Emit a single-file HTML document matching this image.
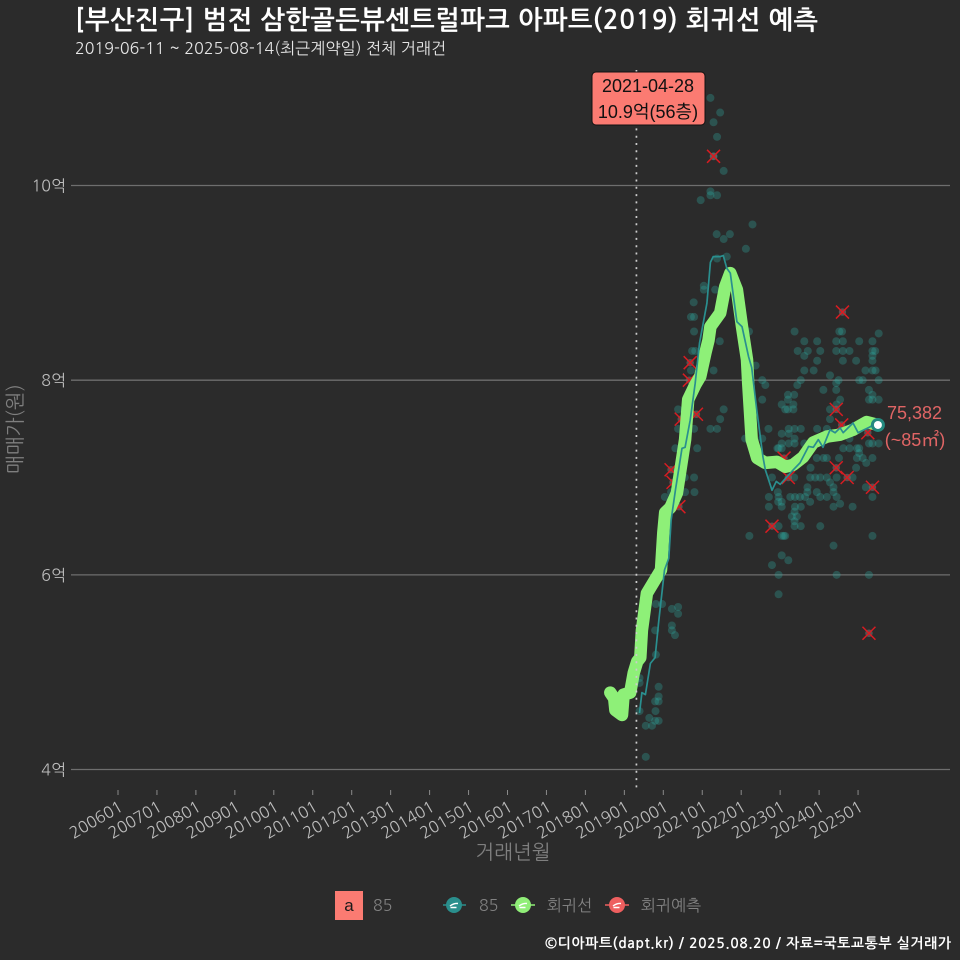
<!DOCTYPE html>
<html lang="ko"><head><meta charset="utf-8"><title>범전 삼한골든뷰센트럴파크 아파트 회귀선 예측</title>
<style>
html,body{margin:0;padding:0;background:#2b2b2b;width:960px;height:960px;overflow:hidden}
svg{display:block}
text{font-family:"NanumGothic","Noto Sans CJK KR","Liberation Sans",sans-serif}
.lib{font-family:"Liberation Sans","Noto Sans CJK KR",sans-serif}
</style></head><body>
<svg id="chart" xmlns="http://www.w3.org/2000/svg" width="960" height="960" viewBox="0 0 960 960">
<rect width="960" height="960" fill="#2b2b2b"/>
<text x="75" y="29" font-size="26" font-weight="700" fill="#fff" textLength="743">[부산진구] 범전 삼한골든뷰센트럴파크 아파트(2019) 회귀선 예측</text>
<text x="75" y="54" font-size="16" fill="#e6e6e6" textLength="371">2019-06-11 ~ 2025-08-14(최근계약일) 전체 거래건</text>
<text transform="translate(22,429) rotate(-90)" text-anchor="middle" font-size="20" fill="#7f7f7f">매매가(원)</text>
<text x="513" y="859" text-anchor="middle" font-size="20" fill="#7f7f7f">거래년월</text>
<g id="grid"></g>
<g id="xaxis"></g>
<g id="points"></g>
<g id="crosses"></g>
<g id="lines"></g>
<g id="annot"></g>
<g>
<rect x="335" y="891" width="28" height="29" fill="#fb7b72"/>
<text x="349" y="911" text-anchor="middle" font-size="17" fill="#1a1a1a" class="lib">a</text>
<text x="373" y="911" font-size="16" fill="#828282">85</text>
<g>
<line x1="443" x2="466" y1="905" y2="905" stroke="#2a8f8d" stroke-width="1.5"/><circle cx="454" cy="905" r="8" fill="#2a8f8d"/><path d="M450 906q4-3 8-2.5M450.5 907.5h6" stroke="#fff" stroke-width="1.4" fill="none"/></g>
<text x="479" y="911" font-size="16" fill="#828282">85</text>
<g>
<line x1="511" x2="535" y1="905" y2="905" stroke="#90ee78" stroke-width="1.5"/><circle cx="523" cy="905" r="8" fill="#90ee78"/><path d="M519 906q4-3 8-2.5M519.5 907.5h6" stroke="#fff" stroke-width="1.4" fill="none"/></g>
<text x="547" y="911" font-size="16" fill="#828282">회귀선</text>
<g>
<line x1="605" x2="629" y1="905" y2="905" stroke="#ee5f5f" stroke-width="1.5"/><circle cx="617" cy="905" r="8" fill="#ee5f5f"/><path d="M613 906q4-3 8-2.5M613.5 907.5h6" stroke="#fff" stroke-width="1.4" fill="none"/></g>
<text x="641" y="911" font-size="16" fill="#828282">회귀예측</text>
</g>
<text x="545" y="948" font-size="14" font-weight="700" fill="#fff" textLength="406">©디아파트(dapt.kr) / 2025.08.20 / 자료=국토교통부 실거래가</text>
</svg>
<script>
var yTickValues = [4, 6, 8, 10];
var yTickLabels = ['4억', '6억', '8억', '10억'];
var xTickYears = [2006,2007,2008,2009,2010,2011,2012,2013,2014,2015,2016,2017,2018,2019,2020,2021,2022,2023,2024,2025];
var xTickLabels = ['200601','200701','200801','200901','201001','201101','201201','201301','201401','201501','201601','201701','201801','201901','202001','202101','202201','202301','202401','202501'];

var pointYears = [
2021.21,2021.46,2021.29,2021.38,2021.29,2021.55,2021.21,2021.21,2021.38,2020.96,2022.29,2021.37,2021.71,2021.55,2022.12,2021.63,2021.38,
2021.04,2021.04,2021.33,2020.78,2020.71,2020.79,
2020.79,2022.20,2023.37,2024.52,2024.59,2025.53,
2021.45,2023.62,2023.95,2024.44,2024.61,2025.03,2025.37,
2020.74,2020.82,2023.45,2023.71,2024.03,2024.44,2024.61,2024.78,2025.37,2025.44,
2023.62,2025.37,
2023.95,2024.61,2024.95,2025.37,2022.37,
2021.29,2020.71,2023.62,2023.86,2025.19,2025.37,2025.45,2024.28,
2022.54,2023.53,2024.50,2025.03,2025.12,2025.53,
2022.62,2023.44,2024.44,2024.44,2024.11,2025.28,
2023.20,2023.36,2025.37,2022.54,2023.20,2024.54,2025.28,2025.37,2025.53,
2023.04,2023.34,2024.45,2020.38,2021.55,2023.13,2023.20,2023.34,2024.28,
2021.46,2024.28,2025.12,
2020.38,2020.79,2021.21,2021.38,2022.70,2023.22,2023.37,2023.53,2023.95,2024.20,
2023.04,2023.22,2022.10,2022.54,2023.37,2024.78,
2023.04,2023.22,2023.37,2023.62,2025.28,2025.37,2025.53,
2020.31,2020.87,2022.93,2022.96,2023.04,2024.62,2024.78,2024.97,2025.03,2025.03,
2024.51,2023.94,2024.11,2024.20,2025.12,2025.37,2024.97,2025.21,2024.95,2023.78,
2020.55,2020.79,2022.79,2023.36,2023.77,2023.90,2024.03,2024.20,2024.45,2024.86,2024.28,
2023.70,2024.37,2025.20,
2020.20,2020.56,2020.80,2023.70,2023.94,2024.37,2022.94,
2020.04,2022.71,2022.96,2023.26,2023.38,2023.51,2023.64,2024.03,2024.20,2024.45,2025.37,
2023.04,2023.77,2022.95,
2022.71,2023.04,2023.38,2023.53,2024.37,2024.54,2024.86,
2023.37,2023.30,2023.43,2023.37,
2022.96,2023.37,2023.53,2024.03,
2022.21,2023.04,2023.09,2023.13,2025.37,
2024.37,2023.04,2023.21,2022.79,2022.96,2024.45,2025.28,2022.96,
2019.81,2019.97,2020.38,2020.22,2020.38,2020.22,2020.22,2019.79,2020.30,2019.81,
2019.39,2019.39,2019.88,2019.88,2019.88,2019.79,2019.80,2019.39,2019.64,2019.88,2019.79,2019.71,2019.55,2019.55
];
var pointPrices = [
10.90,10.75,10.65,10.50,10.30,10.15,9.94,9.90,9.90,9.85,9.60,9.50,9.50,9.45,9.35,9.27,9.25,
8.97,8.93,8.93,8.80,8.65,8.65,
8.50,8.50,8.50,8.50,8.50,8.48,
8.40,8.40,8.40,8.40,8.40,8.40,8.40,
8.30,8.30,8.30,8.30,8.30,8.30,8.30,8.30,8.30,8.30,
8.25,8.25,
8.20,8.20,8.20,8.20,8.15,
8.10,8.10,8.10,8.10,8.10,8.10,8.10,8.05,
8.00,8.00,8.00,8.00,8.00,8.00,
7.95,7.95,7.97,7.90,7.90,7.90,
7.85,7.85,7.85,7.80,7.80,7.80,7.80,7.80,7.80,
7.75,7.75,7.75,7.70,7.70,7.70,7.70,7.70,7.70,
7.60,7.60,7.55,
7.50,7.50,7.50,7.50,7.50,7.50,7.50,7.50,7.50,7.50,
7.45,7.45,7.40,7.40,7.40,7.40,
7.35,7.35,7.35,7.35,7.35,7.35,7.35,
7.30,7.30,7.30,7.30,7.30,7.30,7.30,7.30,7.30,7.25,
7.20,7.20,7.20,7.20,7.20,7.20,7.20,7.15,7.10,7.10,
7.00,7.00,7.00,7.00,7.00,7.00,7.00,7.00,7.00,7.00,6.95,
6.90,6.90,6.90,
6.85,6.85,6.85,6.85,6.85,6.85,6.85,
6.80,6.80,6.80,6.80,6.80,6.80,6.80,6.80,6.80,6.80,6.80,
6.75,6.75,6.75,
6.70,6.70,6.70,6.70,6.70,6.73,6.70,
6.65,6.60,6.60,6.55,
6.50,6.50,6.50,6.50,
6.40,6.40,6.40,6.40,6.40,
6.30,6.20,6.15,6.10,6.00,6.00,6.00,5.80,
5.70,5.70,5.67,5.65,5.60,5.48,5.43,5.43,5.38,5.18,
4.94,4.89,4.85,4.75,4.70,4.70,4.60,4.60,4.53,4.50,4.50,4.45,4.45,4.13
];

var predictionYears = [2021.29,2020.69,2020.67,2020.85,2020.46,2020.20,2020.25,2020.40,2022.79,2023.10,2023.21,2024.44,2024.60,2024.44,2024.72,2025.37,2025.28,2024.58,2025.25];
var predictionPrices = [10.30,8.18,8.00,7.65,7.60,7.08,6.95,6.70,6.50,7.20,7.00,7.70,8.70,7.10,7.00,6.90,5.40,7.54,7.46];

var regressionYears = [2018.64,2018.74,2018.77,2018.94,2018.98,2019.15,2019.24,2019.33,2019.41,2019.45,2019.58,2019.79,2019.94,2020.00,2020.05,2020.18,2020.35,2020.56,2020.64,2020.82,2020.95,2021.08,2021.16,2021.21,2021.46,2021.59,2021.72,2021.89,2022.02,2022.15,2022.18,2022.27,2022.41,2022.62,2022.92,2023.13,2023.33,2023.59,2023.85,2024.20,2024.54,2024.87,2025.22,2025.52];
var regressionPrices = [4.79,4.73,4.61,4.56,4.77,4.79,4.99,5.11,5.15,5.43,5.81,5.95,6.05,6.43,6.64,6.69,6.84,7.39,7.80,7.95,8.04,8.28,8.41,8.55,8.69,8.96,9.10,8.93,8.55,8.21,7.97,7.39,7.20,7.15,7.16,7.11,7.13,7.21,7.36,7.42,7.44,7.49,7.57,7.54];

var averageYears = [2019.39,2019.45,2019.54,2019.67,2019.79,2019.88,2020.03,2020.14,2020.20,2020.31,2020.48,2020.56,2020.69,2020.82,2020.93,2021.12,2021.21,2021.28,2021.38,2021.46,2021.54,2021.63,2021.72,2021.89,2022.02,2022.19,2022.27,2022.40,2022.56,2022.62,2022.79,2022.90,2023.00,2023.34,2023.51,2023.73,2023.85,2023.98,2024.10,2024.28,2024.41,2024.54,2024.62,2024.87,2025.00,2025.31,2025.44,2025.51];
var averagePrices = [4.58,4.79,4.77,5.09,5.15,5.51,6.05,6.17,6.56,6.87,7.30,7.31,7.59,7.97,8.38,8.79,9.21,9.27,9.27,9.27,9.28,9.15,9.10,8.60,8.55,8.24,8.13,7.69,7.21,7.08,6.87,6.96,6.93,7.08,7.15,7.32,7.31,7.39,7.31,7.49,7.46,7.51,7.46,7.56,7.46,7.52,7.56,7.54];

var markerLineYear = 2019.31;
var lastValueLabel = '75,382';
var lastAreaLabel = '(~85㎡)';
var calloutDate = '2021-04-28';
var calloutValue = '10.9억(56층)';

var NS = 'http://www.w3.org/2000/svg';
function xScale(year) { return 118 + (year - 2006) * 38.95; }
function yScale(price) { return 769.5 - (price - 4) * 97.33; }
function make(tag, attrs, parent, txt) {
  var el = document.createElementNS(NS, tag);
  for (var k in attrs) el.setAttribute(k, attrs[k]);
  if (txt !== undefined) el.textContent = txt;
  parent.appendChild(el);
  return el;
}
function linePath(xs, ys) {
  return xs.map(function (v, i) { return (i ? 'L' : 'M') + xScale(v).toFixed(1) + ' ' + yScale(ys[i]).toFixed(1); }).join('');
}

var grid = document.getElementById('grid');
yTickValues.forEach(function (v, i) {
  var y = yScale(v);
  var g = make('line', {x1: 71, x2: 950, y1: y, y2: y, stroke: '#6e6e6e', 'stroke-width': 1.3}, grid);
  
  
  var t = make('text', {x: 66, y: y + 6, 'text-anchor': 'end', 'font-size': 16, fill: '#bcbcbc'}, grid, yTickLabels[i]);
  
  
});

var xaxis = document.getElementById('xaxis');
xTickYears.forEach(function (v, i) {
  var x = xScale(v);
  var k = make('line', {x1: x, x2: x, y1: 790, y2: 795, stroke: '#8a8a8a', 'stroke-width': 1}, xaxis);
  
  
  var t = make('text', {transform: 'translate(' + (x + 6) + ',810) rotate(-30)', 'text-anchor': 'end', 'font-size': 16, fill: '#bcbcbc'}, xaxis, xTickLabels[i]);
  
  
});

var ptsG = document.getElementById('points');
pointYears.forEach(function (v, i) {
  var c = make('circle', {cx: xScale(v), cy: yScale(pointPrices[i]), r: 4, fill: '#2fa8a0', 'fill-opacity': 0.32}, ptsG);
  
  
});

var crossG = document.getElementById('crosses');
predictionYears.forEach(function (v, i) {
  var x = xScale(v), y = yScale(predictionPrices[i]), s = 6.5;
  var c = make('circle', {cx: x, cy: y, r: 3.7, fill: '#7a6a6a', 'fill-opacity': 0.6}, crossG);
  
  
  var m = make('path', {d: 'M' + (x - s) + ' ' + (y - s) + 'L' + (x + s) + ' ' + (y + s) + 'M' + (x - s) + ' ' + (y + s) + 'L' + (x + s) + ' ' + (y - s), stroke: '#d81c22', 'stroke-width': 1.5, fill: 'none'}, crossG);
  
  
});

var linesG = document.getElementById('lines');
var green = make('path', {d: linePath(regressionYears, regressionPrices), fill: 'none', stroke: '#8ef078', 'stroke-width': 12.5, 'stroke-linejoin': 'round', 'stroke-linecap': 'round'}, linesG);


var teal = make('path', {d: linePath(averageYears, averagePrices), fill: 'none', stroke: '#2a8f8f', 'stroke-width': 1.7, 'stroke-linejoin': 'round'}, linesG);



var lastX = xScale(averageYears[averageYears.length - 1]), lastY = yScale(averagePrices[averagePrices.length - 1]);
var endO = make('circle', {cx: lastX, cy: lastY, r: 7, fill: '#23897f'}, linesG);


var endI = make('circle', {cx: lastX, cy: lastY, r: 4, fill: '#ffffff'}, linesG);



var annot = document.getElementById('annot');
var mx = xScale(markerLineYear);
var dot = make('line', {x1: mx, x2: mx, y1: 70, y2: 790, stroke: '#cccccc', 'stroke-width': 1.7, 'stroke-dasharray': '2 5.3'}, annot);


var box = make('rect', {x: 592, y: 72, width: 113, height: 53, rx: 4, fill: '#fb7b72', stroke: '#111', 'stroke-width': 1}, annot);


var t1 = make('text', {x: 648, y: 92, 'text-anchor': 'middle', 'font-size': 18, fill: '#111', 'class': 'lib'}, annot, calloutDate);


var t2 = make('text', {x: 648, y: 118, 'text-anchor': 'middle', 'font-size': 18, fill: '#111', 'class': 'lib'}, annot, calloutValue);


var t3 = make('text', {x: 914.5, y: 419, 'text-anchor': 'middle', 'font-size': 18, fill: '#e06565', 'class': 'lib'}, annot, lastValueLabel);


var t4 = make('text', {x: 915, y: 446, 'text-anchor': 'middle', 'font-size': 18, fill: '#e06565', 'class': 'lib'}, annot, lastAreaLabel);


</script>
</body></html>
